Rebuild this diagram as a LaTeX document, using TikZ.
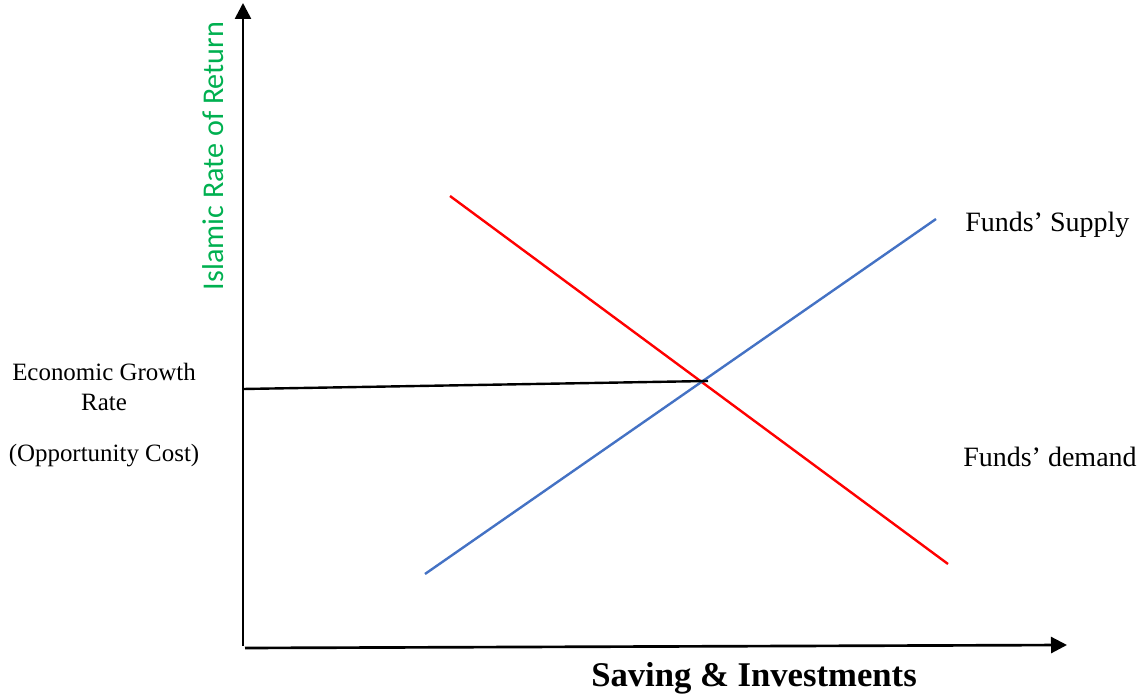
\documentclass[tikz,border=0pt]{standalone}
\usepackage{fontspec}
\setmainfont{Liberation Serif}
\newfontfamily\calib{Carlito}
\usetikzlibrary{arrows.meta}
\definecolor{axisgreen}{RGB}{0,176,80}
\definecolor{supplyblue}{RGB}{68,114,196}
\tikzset{
  axis/.style={line width=2pt, -{Triangle[length=12pt,width=12pt]}},
  curve/.style={line width=1.8pt},
  lbl/.style={inner sep=0pt, font=\fontsize{18.7}{22}\selectfont},
  fundlbl/.style={inner sep=0pt, anchor=base west, font=\fontsize{21}{25}\selectfont}
}
\begin{document}
\begin{tikzpicture}[x=0.75pt,y=-0.75pt]
\useasboundingbox (0,0) rectangle (1140,695);
% axes
\coordinate (ybot) at (243,646);
\coordinate (ytop) at (243,3);
\coordinate (xbeg) at (245,648);
\coordinate (xend) at (1067,645);
\draw[axis] (ybot) -- (ytop);
\draw[axis] (xbeg) -- (xend);
\node[inner sep=0pt, rotate=90, text=axisgreen, font=\calib\fontsize{22.6}{26}\selectfont]
  (ylab) at (213,156) {Islamic Rate of Return};
\node[inner sep=0pt, anchor=base, font=\bfseries\fontsize{26}{30}\selectfont]
  (xlab) at (754,686) {Saving \& Investments};
% demand and supply
\coordinate (d1) at (450,196);
\coordinate (d2) at (948,564);
\coordinate (s1) at (425,574);
\coordinate (s2) at (936,219);
\draw[curve, red] (d1) -- (d2);
\draw[curve, supplyblue] (s1) -- (s2);
\node[fundlbl] (supply) at (965,232) {Funds’ Supply};
\node[fundlbl] (demand) at (963,467) {Funds’ demand};
% growth rate level
\coordinate (grow) at (243,389);
\coordinate (eq) at (708,381);
\draw[line width=1.8pt] (grow) -- (eq);
\node[lbl, anchor=base] (egr1) at (104,381) {Economic Growth};
\node[lbl, anchor=base] (egr2) at (104,411) {Rate};
\node[lbl, anchor=base] (opp) at (104,462) {(Opportunity Cost)};
\end{tikzpicture}
\end{document}
